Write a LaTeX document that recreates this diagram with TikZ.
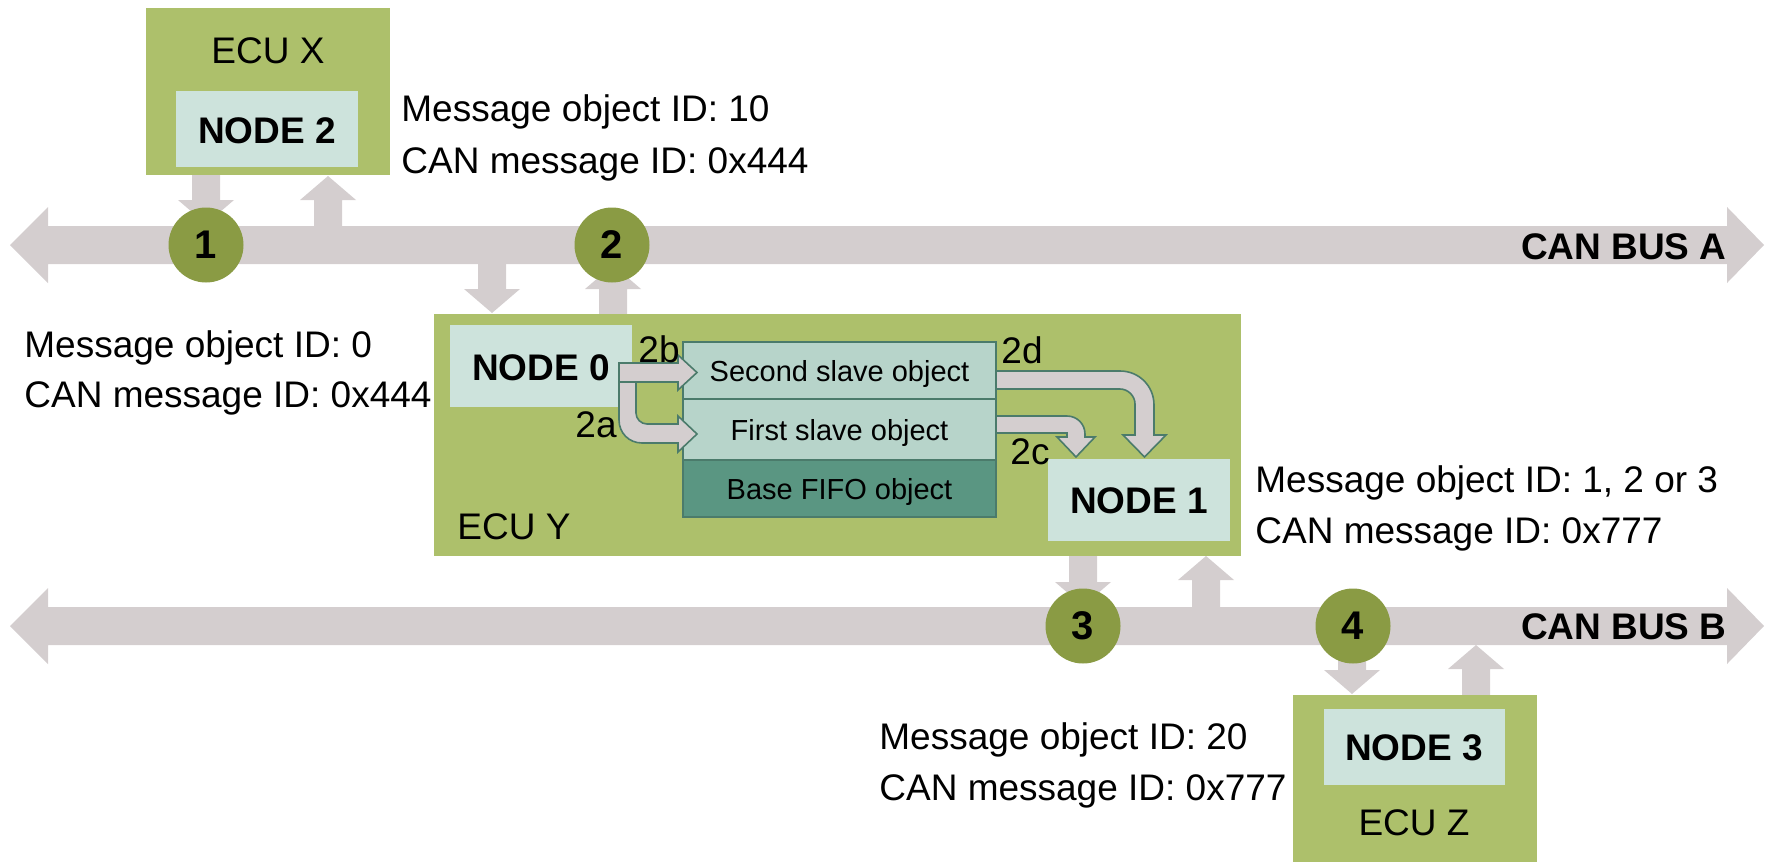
\documentclass[tikz,border=0pt]{standalone}
\usepackage{fontspec}
\setmainfont{Liberation Sans}
\usetikzlibrary{fit}
\definecolor{ecu}{HTML}{ADC06B}
\definecolor{nodebox}{HTML}{CDE3DC}
\definecolor{slave}{HTML}{B7D4CA}
\definecolor{fifo}{HTML}{5A9682}
\definecolor{edgeteal}{HTML}{4B7B6B}
\definecolor{circ}{HTML}{8A9B44}
\definecolor{busgrey}{HTML}{D4CECF}
\newcommand\dnarr[3]{\fill[busgrey] ({#1-14},#2) -- ({#1+14},#2) -- ({#1+14},{#3-24}) -- ({#1+28},{#3-24}) -- (#1,#3) -- ({#1-28},{#3-24}) -- ({#1-14},{#3-24}) -- cycle;}
\newcommand\uparr[3]{\fill[busgrey] ({#1-14},#2) -- ({#1+14},#2) -- ({#1+14},{#3+24}) -- ({#1+28},{#3+24}) -- (#1,#3) -- ({#1-28},{#3+24}) -- ({#1-14},{#3+24}) -- cycle;}
\newcommand\busarr[1]{\fill[busgrey] (10,#1) -- (48,{#1-38}) -- (48,{#1-19}) -- (1727,{#1-19}) -- (1727,{#1-38}) -- (1764,#1) -- (1727,{#1+38}) -- (1727,{#1+19}) -- (48,{#1+19}) -- (48,{#1+38}) -- cycle;}
\begin{document}
\begin{tikzpicture}[x=0.5pt,y=-0.5pt,
  ecubox/.style={fill=ecu,draw=none,inner sep=0},
  nodebox/.style={fill=nodebox,draw=none,inner sep=0},
  slavebox/.style={fill=slave,draw=edgeteal,line width=0.8pt,inner sep=0},
  fifobox/.style={fill=fifo,draw=edgeteal,line width=0.8pt,inner sep=0},
  numcirc/.style={circle,fill=circ,inner sep=0,minimum size=37.5pt,font=\fontsize{20}{24}\selectfont\bfseries},
  txt/.style={inner sep=0,font=\fontsize{18.5}{22}\selectfont},
  btxt/.style={inner sep=0,font=\fontsize{18.5}{22}\selectfont\bfseries},
  stxt/.style={inner sep=0,font=\fontsize{14.5}{18}\selectfont},
  flow/.style={fill=busgrey,draw=edgeteal,line width=0.8pt,line join=miter}]
\useasboundingbox (0,0) rectangle (1771,862);
% buses
\busarr{245}
\busarr{626}
% bus connectors
\dnarr{206}{175}{224}
\uparr{328}{226}{176}
\dnarr{492}{264}{313}
\uparr{613}{314}{265}
\dnarr{1083}{556}{606}
\uparr{1206}{607}{556}
\dnarr{1352}{645}{694}
\uparr{1476}{695}{645}
% circles
\node[numcirc] (c1) at (206,245) {1};
\node[numcirc] (c2) at (612,245) {2};
\node[numcirc] (c3) at (1083,626) {3};
\node[numcirc] (c4) at (1353,626) {4};
% ECU boxes
\node[ecubox,fit={(146,8) (390,175)}] (ecux) {};
\node[nodebox,fit={(176,91) (358,167)}] (node2) {};
\node[ecubox,fit={(434,314) (1241,556)}] (ecuy) {};
\node[nodebox,fit={(450,325) (632,407)}] (node0) {};
\node[slavebox,fit={(683,342) (996,399)}] (second) {};
\node[slavebox,fit={(683,399) (996,460)}] (first) {};
\node[fifobox,fit={(683,460) (996,517)}] (fifo) {};
\node[ecubox,fit={(1293,695) (1537,862)}] (ecuz) {};
\node[nodebox,fit={(1324,709) (1505,785)}] (node3) {};
% internal flows
\draw[flow] (619,363) -- (678,363) -- (678,355) -- (697,372.5) -- (678,390) -- (678,382) -- (619,382) -- cycle;
\draw[flow] (619,382) -- (636,382) -- (636,413) .. controls (636,419) and (641,424) .. (647,424) -- (678,424) -- (678,416) -- (697,434) -- (678,452) -- (678,443) -- (642,443) .. controls (629,443) and (619,433) .. (619,420) -- cycle;
\draw[flow] (996,371) -- (1120,371) .. controls (1139,371) and (1154,386) .. (1154,405) -- (1154,435) -- (1166,435) -- (1144.5,457) -- (1123,435) -- (1135,435) -- (1135,404) .. controls (1135,396) and (1128,389) .. (1120,389) -- (996,389) -- cycle;
\draw[flow] (996,416) -- (1067,416) .. controls (1077,416) and (1085,424) .. (1085,434) -- (1085,437) -- (1095,437) -- (1076,457) -- (1057,437) -- (1067,437) -- (1067,433) -- (996,433) -- cycle;
\node[nodebox,fit={(1048,459) (1230,541)}] (node1) {};
% texts in boxes
\node[txt,anchor=base] (tecux) at (268,63) {ECU X};
\node[btxt,anchor=base] (tnode2) at (267,143) {NODE 2};
\node[btxt,anchor=base] (tnode0) at (541,380) {NODE 0};
\node[btxt,anchor=base] (tnode1) at (1139,513) {NODE 1};
\node[btxt,anchor=base] (tnode3) at (1414,760) {NODE 3};
\node[txt,anchor=base] (tecuz) at (1414,835) {ECU Z};
\node[txt,anchor=base west] (tecuy) at (457,539) {ECU Y};
\node[stxt,anchor=base] (tsecond) at (839.5,381) {Second slave object};
\node[stxt,anchor=base] (tfirst) at (839.5,440) {First slave object};
\node[stxt,anchor=base] (tfifo) at (839.5,499) {Base FIFO object};
% flow labels
\node[txt,anchor=base] (l2b) at (659,362) {2b};
\node[txt,anchor=base] (l2a) at (596,437) {2a};
\node[txt,anchor=base] (l2d) at (1022,363) {2d};
\node[txt,anchor=base] (l2c) at (1030,464) {2c};
% bus labels
\node[btxt,anchor=base east] (busa) at (1727,259) {CAN BUS A};
\node[btxt,anchor=base east] (busb) at (1727,639) {CAN BUS B};
% message texts
\node[txt,anchor=base west] (m2a) at (401,121) {Message object ID: 10};
\node[txt,anchor=base west] (m2b) at (401,173) {CAN message ID: 0x444};
\node[txt,anchor=base west] (m0a) at (24,357) {Message object ID: 0};
\node[txt,anchor=base west] (m0b) at (24,407) {CAN message ID: 0x444};
\node[txt,anchor=base west] (m1a) at (1255,492) {Message object ID: 1, 2 or 3};
\node[txt,anchor=base west] (m1b) at (1255,543) {CAN message ID: 0x777};
\node[txt,anchor=base west] (m3a) at (879,749) {Message object ID: 20};
\node[txt,anchor=base west] (m3b) at (879,800) {CAN message ID: 0x777};
\end{tikzpicture}
\end{document}
